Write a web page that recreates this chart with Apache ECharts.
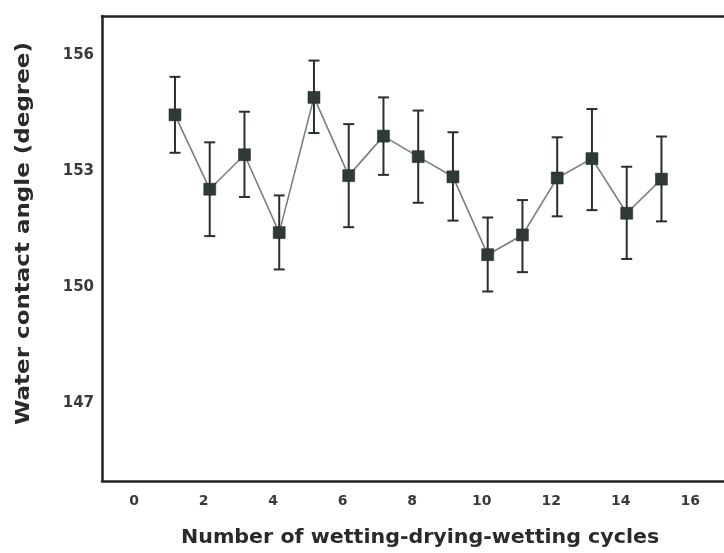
<!DOCTYPE html>
<html>
<head>
<meta charset="utf-8">
<script src="https://cdn.jsdelivr.net/npm/echarts@6/dist/echarts.min.js"></script>
<style>html,body{margin:0;padding:0;background:#fff;}#c{width:724px;height:553px;}</style>
</head>
<body>
<div id="c"></div>
<script>
// Data
const cycles = [1,2,3,4,5,6,7,8,9,10,11,12,13,14,15];
const contactAngle = [154.45,152.53,153.42,151.41,154.9,152.88,153.9,153.37,152.85,150.84,151.35,152.82,153.32,151.91,152.79];
const errUpper = [155.43,153.74,154.53,152.37,155.85,154.21,154.9,154.56,154.0,151.8,152.25,153.87,154.6,153.11,153.89];
const errLower = [153.47,151.32,152.33,150.46,153.98,151.55,152.9,152.18,151.72,149.89,150.39,151.83,151.99,150.73,151.7];
const xTickLabels = [0,2,4,6,8,10,12,14,16];
const yTickLabels = [147,150,153,156];
const xTitle = 'Number of wetting-drying-wetting cycles';
const yTitle = 'Water contact angle (degree)';

const dark = '#28302d';
const fontFam = '"DejaVu Sans", "Liberation Sans", Arial, sans-serif';
const chart = echarts.init(document.getElementById('c'), null, {renderer:'canvas'});
const lineData = cycles.map((c,i)=>[c, contactAngle[i]]);
const errData = cycles.map((c,i)=>[c, errLower[i], errUpper[i]]);
const xMin = -1.1, xMax = 16.8;

chart.setOption({
  animation:false,
  backgroundColor:'#ffffff',
  grid:{left:102, top:16, width:623, height:465, show:false},
  xAxis:[{
    type:'value', min:xMin, max:xMax,
    axisLine:{show:true, onZero:false, lineStyle:{color:'#222', width:2.5}},
    axisTick:{show:false},
    splitLine:{show:false},
    axisLabel:{customValues:xTickLabels, margin:13, color:'#3a3a3a', fontSize:14, fontWeight:'bold', fontFamily:fontFam, padding:[0,12,0,0]}
  },{
    type:'value', position:'top', min:xMin, max:xMax,
    axisLine:{show:true, onZero:false, lineStyle:{color:'#222', width:2.5}},
    axisTick:{show:false}, axisLabel:{show:false}, splitLine:{show:false}
  }],
  yAxis:{
    type:'value', min:145, max:157,
    axisLine:{show:true, onZero:false, lineStyle:{color:'#222', width:2.5}},
    axisTick:{show:false},
    splitLine:{show:false},
    axisLabel:{customValues:yTickLabels, margin:8, color:'#3a3a3a', fontSize:15, fontWeight:'bold', fontFamily:fontFam}
  },
  graphic:[
    {type:'text', x:181, y:528, scaleX:1.03, style:{text:xTitle, fill:'#2a2a2a', font:'bold 20px ' + fontFam, verticalAlign:'top'}},
    {type:'text', x:14, y:425, rotation:Math.PI/2, scaleX:1.15, style:{text:yTitle, fill:'#2a2a2a', font:'bold 20px ' + fontFam, verticalAlign:'top'}}
  ],
  series:[
    {
      type:'custom',
      data:errData,
      z:3,
      renderItem:function(params, api){
        const x = api.value(0);
        const lo = api.coord([x, api.value(1)]);
        const hi = api.coord([x, api.value(2)]);
        const cap = 5.5;
        const st = {stroke:dark, lineWidth:2};
        return {type:'group', children:[
          {type:'line', shape:{x1:lo[0], y1:lo[1], x2:hi[0], y2:hi[1]}, style:st},
          {type:'line', shape:{x1:lo[0]-cap, y1:lo[1], x2:lo[0]+cap, y2:lo[1]}, style:st},
          {type:'line', shape:{x1:hi[0]-cap, y1:hi[1], x2:hi[0]+cap, y2:hi[1]}, style:st}
        ]};
      }
    },
    {
      type:'line',
      data:lineData,
      z:4,
      symbol:'rect',
      symbolSize:12,
      lineStyle:{color:'#7a7f7c', width:1.6},
      itemStyle:{color:'#2f3a36', borderColor:'#222', borderWidth:0.5}
    }
  ]
});
</script>
</body>
</html>
